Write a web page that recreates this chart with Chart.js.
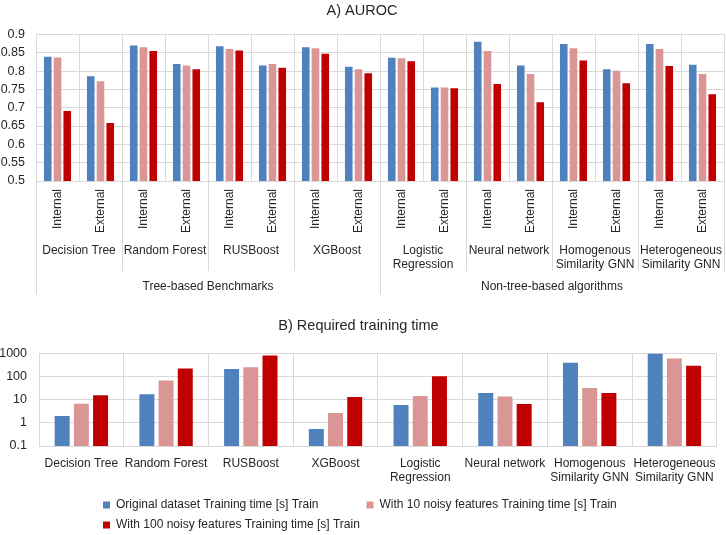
<!DOCTYPE html>
<html>
<head>
<meta charset="utf-8">
<script src="https://cdn.jsdelivr.net/npm/chart.js@4.4.1/dist/chart.umd.min.js"></script>
<style>
    html, body { margin: 0; padding: 0; background: #fff; overflow: hidden; }
    #wrapA { position: absolute; left: 0; top: 0; width: 726px; height: 300px; }
    #wrapB { position: absolute; left: 0; top: 300px; width: 726px; height: 241px; }
</style>
</head>
<body>
<div id="wrapA"><canvas id="aurocChart"></canvas></div>
<div id="wrapB"><canvas id="timeChart"></canvas></div>
<script>
// ---- data ----
const modelNames = ['Decision Tree', 'Random Forest', 'RUSBoost', 'XGBoost', ['Logistic', 'Regression'],
    'Neural network', ['Homogenous', 'Similarity GNN'], ['Heterogeneous', 'Similarity GNN']];
const variants = ['Internal', 'External'];
const familyNames = ['Tree-based Benchmarks', 'Non-tree-based algorithms'];
const familySizes = [4, 4];

const aurocLabels = modelNames.flatMap(() => variants);
const aurocOriginal = [0.839, 0.786, 0.870, 0.819, 0.868, 0.815, 0.865, 0.812, 0.836, 0.755, 0.880, 0.815, 0.874, 0.805, 0.874, 0.817];
const aurocNoisy10 = [0.837, 0.772, 0.865, 0.815, 0.860, 0.819, 0.862, 0.805, 0.835, 0.755, 0.855, 0.792, 0.862, 0.801, 0.860, 0.792];
const aurocNoisy100 = [0.691, 0.658, 0.855, 0.805, 0.856, 0.809, 0.847, 0.794, 0.827, 0.753, 0.765, 0.715, 0.829, 0.767, 0.814, 0.737];
const aurocTicks = [0.5, 0.55, 0.6, 0.65, 0.7, 0.75, 0.8, 0.85, 0.9];

const timeOriginal = [1.97, 17, 210, 0.54, 5.9, 19.4, 395, 980];
const timeNoisy10 = [6.7, 68, 250, 2.65, 14.4, 13.9, 31.7, 608];
const timeNoisy100 = [15.4, 224, 820, 13, 102, 6.5, 19.4, 294];
const timeTicks = [0.1, 1, 10, 100, 1000];

const seriesNames = [
    'Original dataset Training time [s] Train',
    'With 10 noisy features Training time [s] Train',
    'With 100 noisy features Training time [s] Train'
];
const seriesColors = ['#4f81bd', '#d99694', '#c00000'];

// ---- shared style ----
const FONT = '"Liberation Sans", Arial, sans-serif';
const textColor = '#262626';
const gridColor = '#d9d9d9';
Chart.defaults.font.family = FONT;
Chart.defaults.color = textColor;

function makeDatasets(seriesList) {
    return seriesList.map((data, i) => ({
        label: seriesNames[i],
        data: data,
        backgroundColor: seriesColors[i],
        borderWidth: 0,
        categoryPercentage: 0.68,
        barPercentage: 0.78
    }));
}

// Multi-level category axis for panel A: group separators + model and family names
const groupAxisPlugin = {
    id: 'groupAxis',
    afterDraw(chart) {
        const x = chart.scales.x;
        const area = chart.chartArea;
        const ctx = chart.ctx;
        const half = (x.getPixelForValue(1) - x.getPixelForValue(0)) / 2;
        const per = variants.length;

        ctx.save();
        ctx.strokeStyle = gridColor;
        ctx.lineWidth = 1;
        // family boundaries get the long lines
        const familyStarts = [0];
        familySizes.forEach(n => familyStarts.push(familyStarts[familyStarts.length - 1] + n));
        for (let g = 0; g <= modelNames.length; g++) {
            const px = Math.round(x.getPixelForValue(g * per) - half) + 0.5;
            const isLong = g === 0 || (g < modelNames.length && familyStarts.includes(g));
            ctx.beginPath();
            ctx.moveTo(px, area.bottom);
            ctx.lineTo(px, area.bottom + (isLong ? 113 : 90));
            ctx.stroke();
        }

        ctx.fillStyle = textColor;
        ctx.font = '12px ' + FONT;
        ctx.textAlign = 'center';
        ctx.textBaseline = 'middle';
        modelNames.forEach((name, g) => {
            const cx = (x.getPixelForValue(g * per) + x.getPixelForValue(g * per + per - 1)) / 2;
            const lines = Array.isArray(name) ? name : [name];
            lines.forEach((ln, i) => ctx.fillText(ln, cx, area.bottom + 70 + i * 14));
        });

        familyNames.forEach((name, f) => {
            const first = familyStarts[f] * per;
            const last = familyStarts[f + 1] * per - 1;
            const cx = (x.getPixelForValue(first) + x.getPixelForValue(last)) / 2;
            ctx.fillText(name, cx, area.bottom + 106);
        });
        ctx.restore();
    }
};

// Excel keeps the second legend row left-aligned with the first
const legendShiftPlugin = {
    id: 'legendShift',
    afterLayout(chart) {
        if (chart.legend) chart.legend.left = 95;
    }
};

// ---- Panel A: AUROC ----
new Chart(document.getElementById('aurocChart'), {
    type: 'bar',
    data: {
        labels: aurocLabels,
        datasets: makeDatasets([aurocOriginal, aurocNoisy10, aurocNoisy100])
    },
    options: {
        responsive: true,
        maintainAspectRatio: false,
        animation: false,
        layout: { padding: { left: 0, right: 2, top: 0, bottom: 0 } },
        plugins: {
            legend: { display: false },
            tooltip: { enabled: false },
            title: {
                display: true,
                text: 'A) AUROC',
                color: textColor,
                font: { size: 14.5, weight: 'normal' },
                padding: { top: 2, bottom: 15 }
            }
        },
        scales: {
            x: {
                offset: true,
                grid: { color: gridColor, offset: true, drawTicks: false },
                border: { color: gridColor },
                ticks: {
                    autoSkip: false,
                    minRotation: 90,
                    maxRotation: 90,
                    padding: 8,
                    font: { size: 12 }
                },
                afterFit: (s) => { s.height = 119; }
            },
            y: {
                min: 0.5,
                max: 0.9,
                grid: { color: gridColor, drawTicks: false },
                border: { display: false },
                afterBuildTicks: (s) => { s.ticks = aurocTicks.map(v => ({ value: v })); },
                ticks: {
                    padding: 11,
                    font: { size: 12.5 },
                    callback: (v) => String(+v.toFixed(2))
                },
                afterFit: (s) => { s.width = 36; }
            }
        }
    },
    plugins: [groupAxisPlugin]
});

// ---- Panel B: required training time ----
new Chart(document.getElementById('timeChart'), {
    type: 'bar',
    data: {
        labels: modelNames,
        datasets: makeDatasets([timeOriginal, timeNoisy10, timeNoisy100])
    },
    options: {
        responsive: true,
        maintainAspectRatio: false,
        animation: false,
        layout: { padding: { left: 0, right: 9, top: 0, bottom: 0 } },
        plugins: {
            tooltip: { enabled: false },
            title: {
                display: true,
                text: 'B) Required training time',
                color: textColor,
                font: { size: 14.5, weight: 'normal' },
                padding: { top: 17, bottom: 19 }
            },
            legend: {
                position: 'bottom',
                align: 'start',
                labels: {
                    boxWidth: 7,
                    boxHeight: 7,
                    padding: 8,
                    color: textColor,
                    font: { size: 12 },
                    generateLabels(chart) {
                        const items = Chart.defaults.plugins.legend.labels.generateLabels(chart);
                        items[0].text += '            ';
                        return items;
                    }
                }
            }
        },
        scales: {
            x: {
                offset: true,
                grid: { color: gridColor, offset: true, drawTicks: false },
                border: { color: gridColor },
                ticks: {
                    autoSkip: false,
                    minRotation: 0,
                    maxRotation: 0,
                    padding: 10,
                    font: { size: 12 }
                },
                afterFit: (s) => { s.height = 45; }
            },
            y: {
                type: 'logarithmic',
                min: 0.1,
                max: 1000,
                grid: { color: gridColor, drawTicks: false },
                border: { display: false },
                afterBuildTicks: (s) => { s.ticks = timeTicks.map(v => ({ value: v })); },
                ticks: {
                    padding: 12,
                    font: { size: 12.5 },
                    callback: (v) => String(v)
                },
                afterFit: (s) => { s.width = 39; }
            }
        }
    },
    plugins: [legendShiftPlugin]
});
</script>
</body>
</html>
